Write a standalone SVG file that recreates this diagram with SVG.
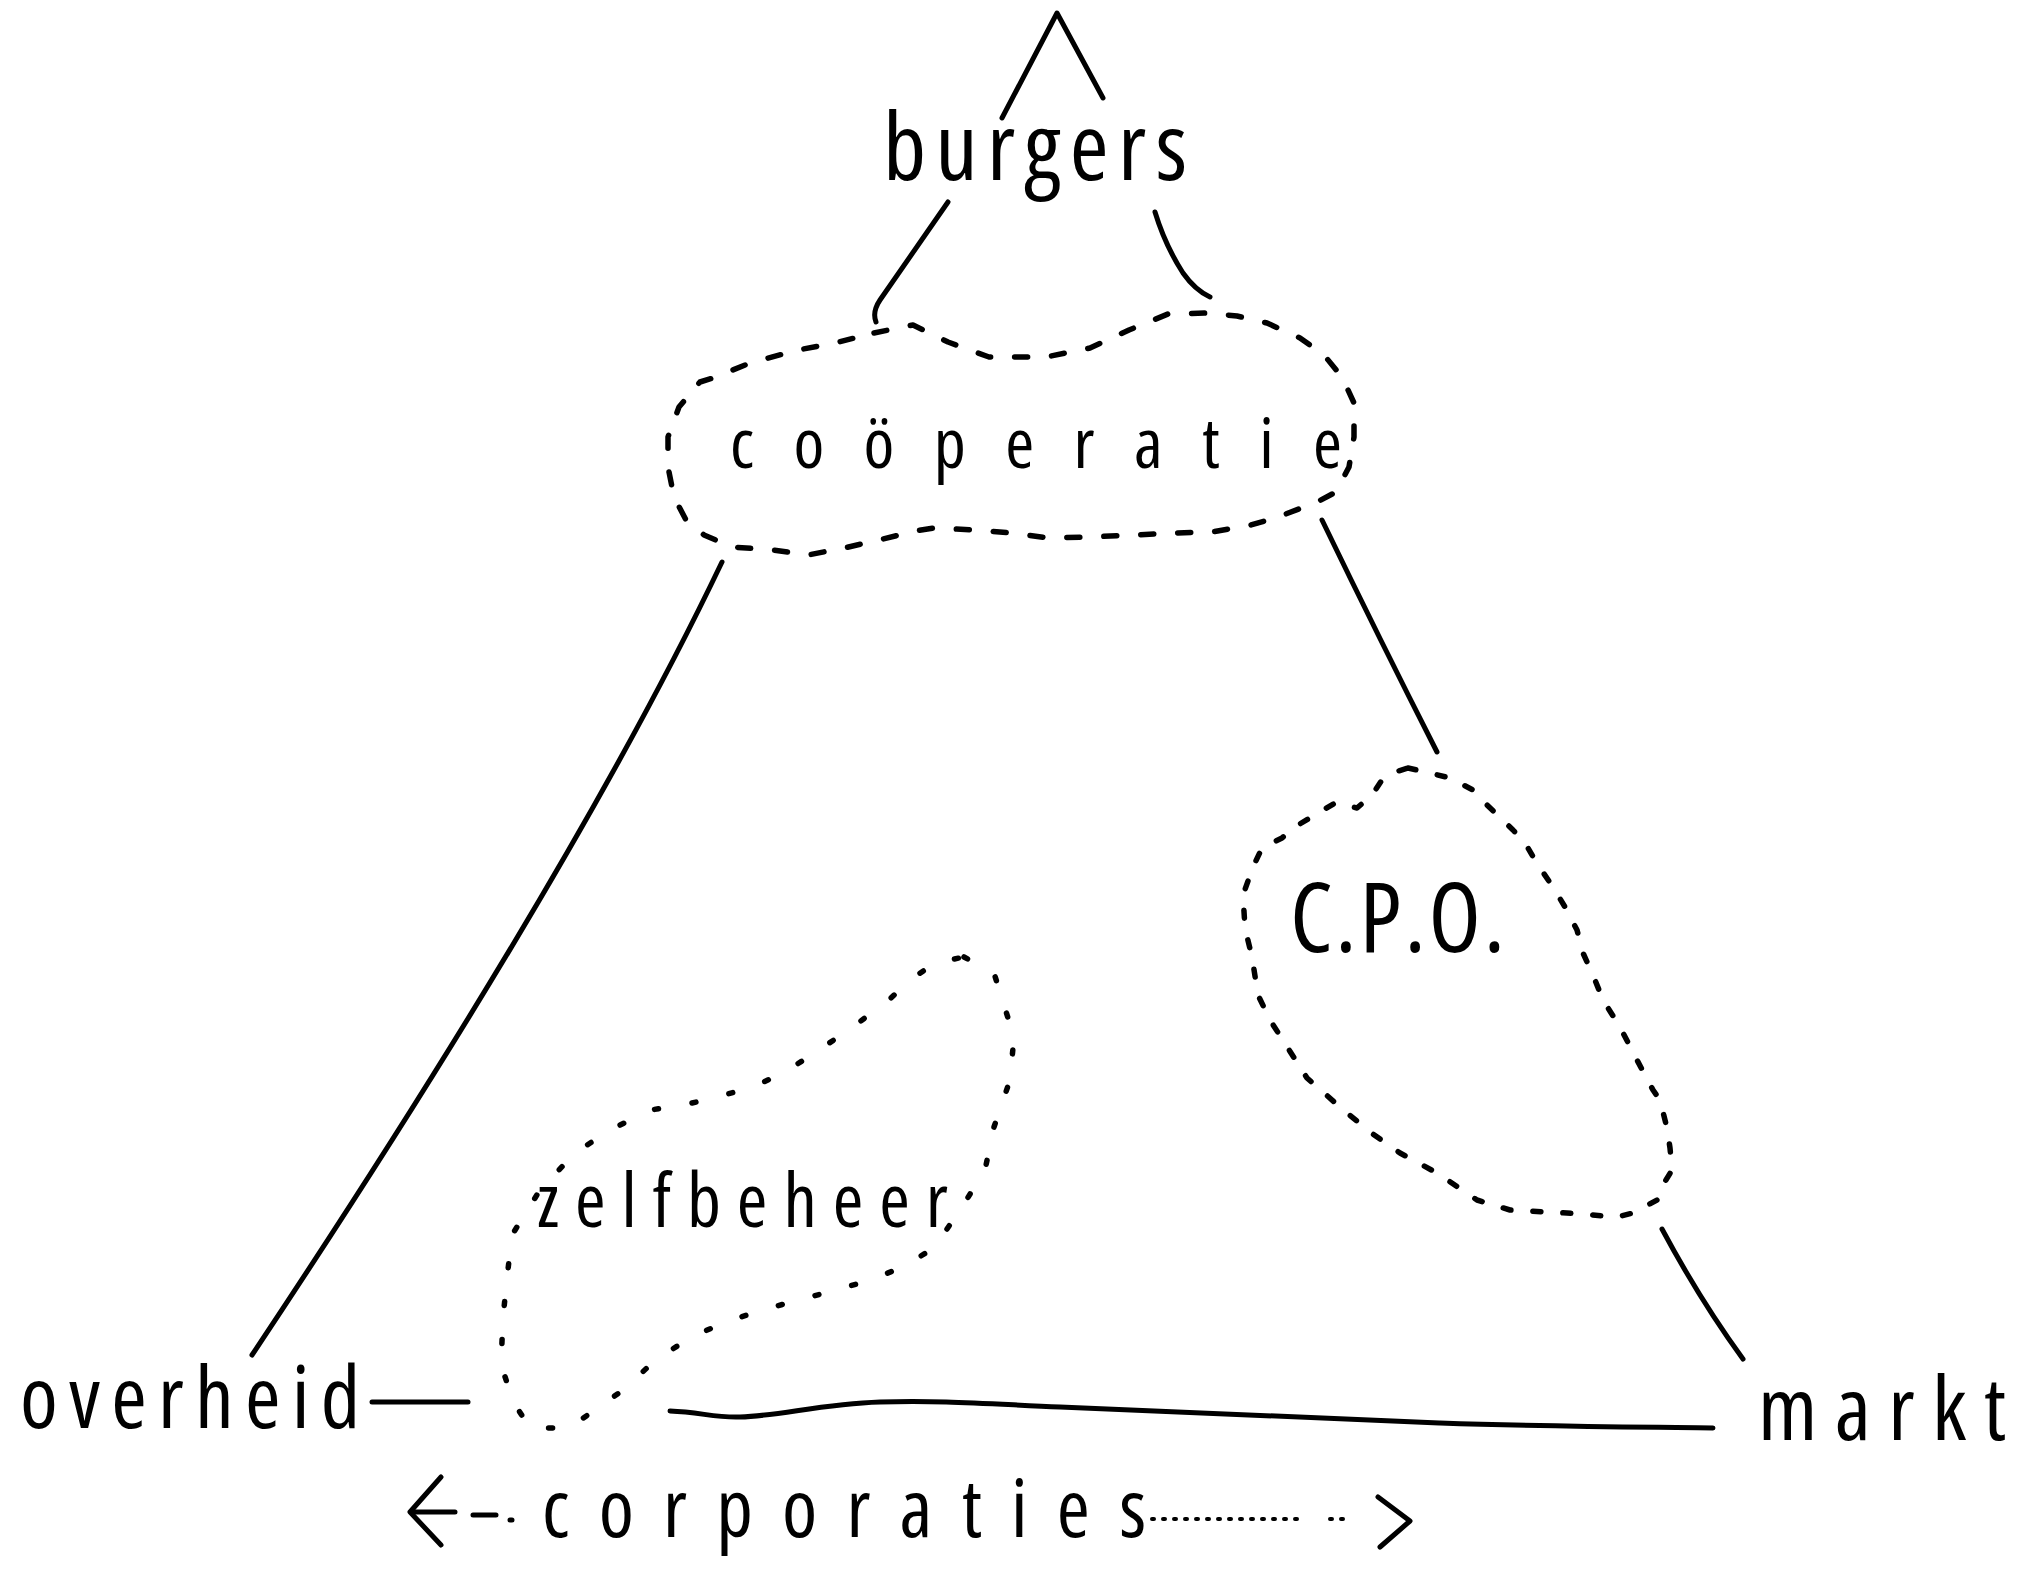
<svg xmlns="http://www.w3.org/2000/svg" width="2039" height="1584" viewBox="0 0 2039 1584">
<style>
.ln{fill:none;stroke:#000;stroke-width:5;stroke-linecap:round;stroke-linejoin:round}
.blob{fill:none;stroke:#000;stroke-width:5.5;stroke-linecap:round;stroke-linejoin:round}
.coop{stroke-dasharray:13 24}
.cpo{stroke-dasharray:8 22}
.zelf{stroke-dasharray:4 34}
.dots{fill:none;stroke:#000;stroke-width:4;stroke-linecap:round;stroke-dasharray:2 9}
.lbl{font-family:"Open Sans","DejaVu Sans Condensed","Liberation Sans",sans-serif;font-weight:400;font-stretch:condensed;fill:#000}
</style>
<rect width="2039" height="1584" fill="#fff"/>

<g id="connectors">
  <path class="ln" d="M1002,118 L1057,13 L1103,98"/>
  <path class="ln" d="M948,202 L880,300 Q872,312 876,322"/>
  <path class="ln" d="M1155,212 Q1165,245 1183,273 Q1195,290 1210,297"/>
  <path class="ln" d="M722,562 Q575,870 252,1355"/>
  <path class="ln" d="M1322,520 Q1380,640 1437,752"/>
  <path class="ln" d="M1662,1229 Q1700,1300 1743,1359"/>
  <path class="ln" d="M372,1402 L468,1402"/>
  <path class="ln" stroke-width="6.5" d="M670,1411 C700,1412 715,1418 740,1417 C780,1416 820,1404 880,1402 C940,1400 990,1404 1060,1407 C1160,1411 1300,1418 1440,1423 C1560,1427 1650,1427 1713,1428"/>
  <path class="ln" d="M441,1477 L410,1512 L441,1545"/>
  <path class="ln" d="M412,1512 L455,1512 M473,1515 L496,1515 M510,1520 L512,1520"/>
  <path class="dots" d="M1152,1519 L1300,1519 M1330,1519 L1345,1519"/>
  <path class="ln" d="M1378,1497 L1410,1521 L1380,1547"/>
</g>

<g id="burgers">
  <text class="lbl" x="883" y="180" font-size="94" textLength="304" lengthAdjust="spacing">burgers</text>
</g>

<g id="cooperatie">
  <path class="blob coop" d="M874,333 L913,325 L948,342 L989,357 L1046,357 L1090,348 L1129,330 L1168,314 L1207,313 L1237,316 L1267,323 L1300,338 L1324,355 L1342,377 L1354,403 L1354,437 L1349,467 L1336,492 L1317,502 L1278,517 L1251,525 L1212,532 L1173,533 L1134,535 L1088,537 L1049,538 L1012,533 L975,530 L934,528 L915,531 L879,540 L844,548 L808,555 L773,550 L732,547 L704,535 L686,520 L674,497 L668,467 L668,437 L679,407 L700,382 L713,378 L750,363 L798,350 L835,343 Z"/>
  <text class="lbl" x="730" y="468" font-size="70" textLength="612" lengthAdjust="spacing">coöperatie</text>
</g>

<g id="cpo">
  <path class="blob cpo" d="M1408,768 L1430,773 L1450,778 L1473,790 L1485,803 L1513,830 L1525,843 L1538,865 L1553,887 L1565,907 L1577,930 L1583,953 L1593,975 L1603,1000 L1620,1027 L1637,1060 L1653,1090 L1660,1100 L1667,1128 L1670,1148 L1672,1170 L1660,1190 L1657,1200 L1633,1213 L1617,1217 L1567,1213 L1547,1212 L1510,1210 L1477,1200 L1437,1173 L1400,1153 L1370,1132 L1340,1107 L1307,1078 L1270,1020 L1258,995 L1252,957 L1245,928 L1243,895 L1253,867 L1262,848 L1282,838 L1293,828 L1320,812 L1335,803 L1357,808 L1372,795 L1382,780 L1395,772 Z"/>
  <text class="lbl" x="1290" y="952" font-size="96" textLength="215" lengthAdjust="spacing">C.P.O.</text>
</g>

<g id="zelfbeheer">
  <path class="blob zelf" d="M964,957 L994,973 L1003,1002 L1014,1037 L1010,1080 L994,1127 L985,1170 L962,1207 L934,1248 L901,1268 L864,1282 L810,1297 L762,1310 L726,1322 L691,1337 L653,1362 L626,1388 L592,1412 L569,1428 L530,1428 L514,1403 L501,1365 L503,1318 L507,1278 L512,1235 L540,1190 L575,1153 L610,1130 L651,1110 L692,1103 L717,1097 L753,1087 L785,1072 L816,1052 L853,1027 L891,998 L910,980 L935,963 Z"/>
  <text class="lbl" x="537" y="1227" font-size="74" textLength="411" lengthAdjust="spacing">zelfbeheer</text>
</g>

<g id="overheid">
  <text class="lbl" x="20" y="1428" font-size="86" textLength="340" lengthAdjust="spacing">overheid</text>
</g>

<g id="markt">
  <text class="lbl" x="1758" y="1440" font-size="88" textLength="248" lengthAdjust="spacing">markt</text>
</g>

<g id="corporaties">
  <text class="lbl" x="542" y="1537" font-size="80" textLength="604" lengthAdjust="spacing">corporaties</text>
</g>
</svg>
